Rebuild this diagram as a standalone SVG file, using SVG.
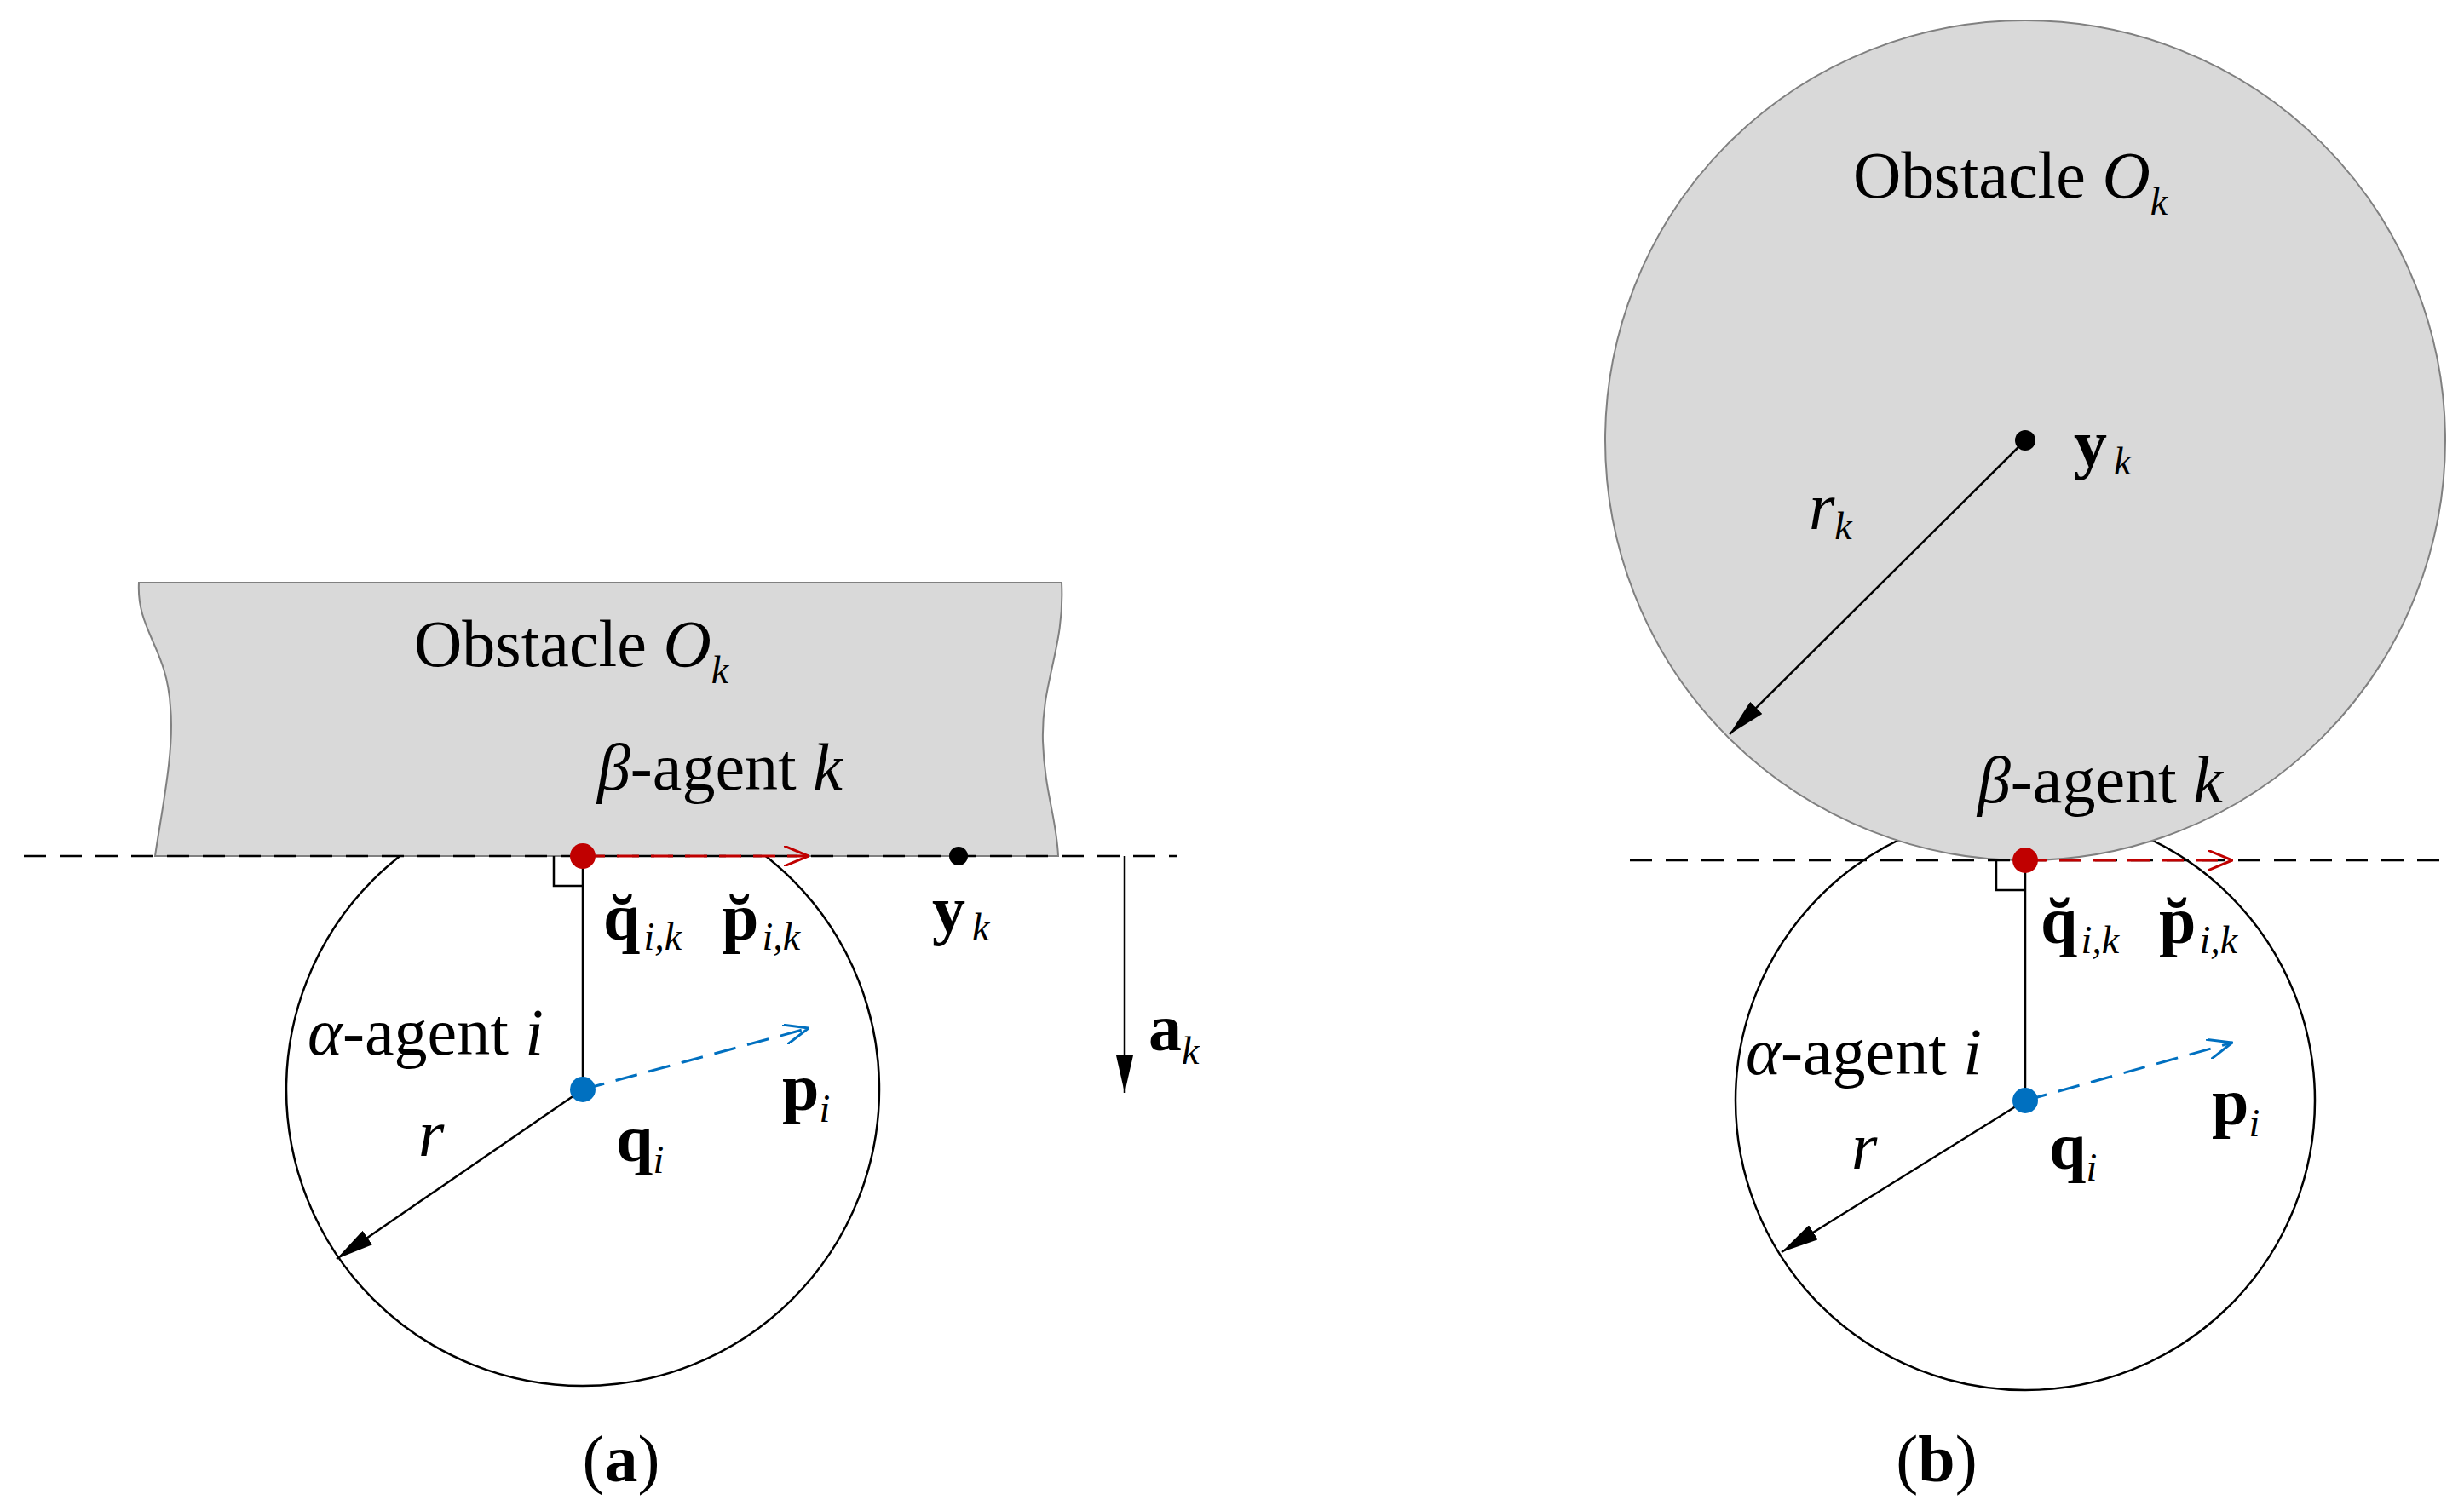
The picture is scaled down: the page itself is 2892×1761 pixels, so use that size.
<svg xmlns="http://www.w3.org/2000/svg" width="2892" height="1761" viewBox="0 0 2892 1761">
<style>
text{font-family:"Liberation Serif","DejaVu Serif",serif;fill:#000}
.t{font-size:78px}
.b{font-weight:bold}
.i{font-style:italic}
.s{font-size:46px;font-style:italic}
.ln{stroke:#000;stroke-width:2.5;fill:none}
.dash{stroke:#000;stroke-width:2.5;stroke-dasharray:26 16;fill:none}
.obs{fill:#d9d9d9;stroke:#808080;stroke-width:2}
</style>
<defs>
<marker id="ahb" viewBox="0 0 44 20" refX="44" refY="10" markerWidth="44" markerHeight="20" markerUnits="userSpaceOnUse" orient="auto"><path d="M0,0L44,10L0,20z" fill="#000"/></marker>
<marker id="or" viewBox="0 0 30 24" refX="29" refY="12" markerWidth="30" markerHeight="24" markerUnits="userSpaceOnUse" orient="auto"><path d="M0,0L29,12L0,24" fill="none" stroke="#c00000" stroke-width="3"/></marker>
<marker id="ob" viewBox="0 0 30 24" refX="29" refY="12" markerWidth="30" markerHeight="24" markerUnits="userSpaceOnUse" orient="auto"><path d="M0,0L29,12L0,24" fill="none" stroke="#0070c0" stroke-width="3"/></marker>
</defs>

<!-- Panel (a) -->
<g id="agent-a-circle"><circle cx="684" cy="1279" r="348" class="ln"/></g>
<g id="obstacle-a"><path class="obs" d="M163,684 L1246,684 C1250,760 1222,800 1224,870 C1226,930 1240,960 1242,1005 L182,1005 C190,950 205,880 200,830 C196,760 160,740 163,684Z"/>
<text class="t" x="486" y="782">Obstacle <tspan class="i">O</tspan><tspan class="s" dy="20">k</tspan></text></g>
<g id="connectors-a">
<line class="dash" x1="28" y1="1005" x2="1381" y2="1005"/>
<line class="ln" x1="684" y1="1005" x2="684" y2="1279"/>
<polyline class="ln" points="650,1005 650,1040 684,1040"/>
<line stroke="#c00000" stroke-width="3" stroke-dasharray="26 14" x1="684" y1="1005" x2="949" y2="1005" marker-end="url(#or)"/>
<line stroke="#0070c0" stroke-width="3" stroke-dasharray="26 14" x1="684" y1="1279" x2="949" y2="1207" marker-end="url(#ob)"/>
<line class="ln" x1="684" y1="1279" x2="395" y2="1478" marker-end="url(#ahb)"/>
<line class="ln" x1="1320" y1="1005" x2="1320" y2="1283" marker-end="url(#ahb)"/>
</g>
<g id="beta-a"><circle cx="684" cy="1005" r="15" fill="#c00000"/><text class="t" x="701" y="927"><tspan class="i">β</tspan>-agent <tspan class="i">k</tspan></text></g>
<g id="alpha-a"><circle cx="684" cy="1279" r="15" fill="#0070c0"/><text class="t" x="361" y="1238"><tspan class="i">α</tspan>-agent <tspan class="i">i</tspan></text></g>
<g id="labels-a">
<text class="t b" x="708" y="1103">q̆<tspan class="s" font-weight="normal" dx="4" dy="12">i</tspan><tspan class="s" font-weight="normal">,</tspan><tspan class="s" font-weight="normal">k</tspan></text>
<text class="t b" x="847" y="1103">p̆<tspan class="s" font-weight="normal" dx="4" dy="12">i</tspan><tspan class="s" font-weight="normal">,</tspan><tspan class="s" font-weight="normal">k</tspan></text>
<circle cx="1125" cy="1005" r="11" fill="#000"/>
<text class="t b" x="1094" y="1094">y<tspan class="s" font-weight="normal" dx="8" dy="10">k</tspan></text>
<text class="t b" x="1348" y="1233">a<tspan class="s" font-weight="normal" dy="16">k</tspan></text>
<text class="t b" x="918" y="1303">p<tspan class="s" font-weight="normal" dy="14">i</tspan></text>
<text class="t b" x="723" y="1363">q<tspan class="s" font-weight="normal" dy="14">i</tspan></text>
<text class="t i" x="491" y="1357">r</text>
<text class="t" x="729" y="1739" text-anchor="middle">(<tspan class="b">a</tspan>)</text>
</g>

<!-- Panel (b) -->
<g id="agent-b-circle"><circle cx="2377" cy="1292" r="340" class="ln"/></g>
<g id="obstacle-b"><circle cx="2377" cy="517" r="493" class="obs"/>
<text class="t" x="2175" y="232">Obstacle <tspan class="i">O</tspan><tspan class="s" dy="20">k</tspan></text></g>
<g id="connectors-b">
<line class="dash" x1="1913" y1="1010" x2="2864" y2="1010"/>
<line class="ln" x1="2377" y1="1010" x2="2377" y2="1292"/>
<polyline class="ln" points="2343,1010 2343,1045 2377,1045"/>
<line stroke="#c00000" stroke-width="3" stroke-dasharray="26 14" x1="2377" y1="1010" x2="2620" y2="1010" marker-end="url(#or)"/>
<line stroke="#0070c0" stroke-width="3" stroke-dasharray="26 14" x1="2377" y1="1292" x2="2620" y2="1224" marker-end="url(#ob)"/>
<line class="ln" x1="2377" y1="1292" x2="2091" y2="1470" marker-end="url(#ahb)"/>
<line class="ln" x1="2377" y1="517" x2="2030" y2="862" marker-end="url(#ahb)"/>
</g>
<g id="beta-b"><circle cx="2377" cy="1010" r="15" fill="#c00000"/><text class="t" x="2321" y="942"><tspan class="i">β</tspan>-agent <tspan class="i">k</tspan></text></g>
<g id="alpha-b"><circle cx="2377" cy="1292" r="15" fill="#0070c0"/><text class="t" x="2049" y="1261"><tspan class="i">α</tspan>-agent <tspan class="i">i</tspan></text></g>
<g id="labels-b">
<circle cx="2377" cy="517" r="12" fill="#000"/>
<text class="t b" x="2434" y="547">y<tspan class="s" font-weight="normal" dx="8" dy="10">k</tspan></text>
<text class="t i" x="2123" y="621">r<tspan class="s" dy="12">k</tspan></text>
<text class="t b" x="2395" y="1107">q̆<tspan class="s" font-weight="normal" dx="4" dy="12">i</tspan><tspan class="s" font-weight="normal">,</tspan><tspan class="s" font-weight="normal">k</tspan></text>
<text class="t b" x="2534" y="1107">p̆<tspan class="s" font-weight="normal" dx="4" dy="12">i</tspan><tspan class="s" font-weight="normal">,</tspan><tspan class="s" font-weight="normal">k</tspan></text>
<text class="t b" x="2596" y="1320">p<tspan class="s" font-weight="normal" dy="14">i</tspan></text>
<text class="t b" x="2405" y="1372">q<tspan class="s" font-weight="normal" dy="14">i</tspan></text>
<text class="t i" x="2173" y="1372">r</text>
<text class="t" x="2273" y="1739" text-anchor="middle">(<tspan class="b">b</tspan>)</text>
</g>
</svg>
